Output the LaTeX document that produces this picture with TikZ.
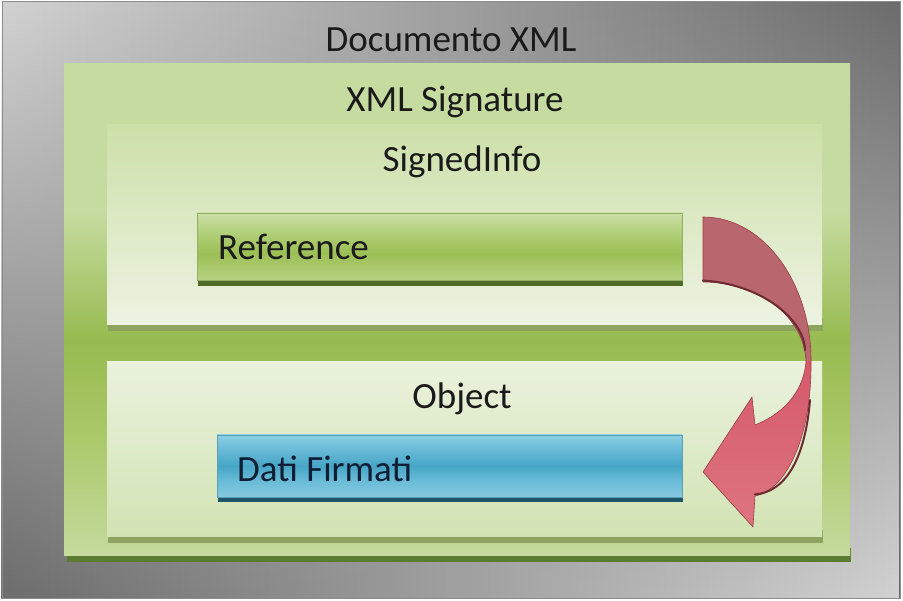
\documentclass[tikz,border=0pt]{standalone}
\usepackage{fontspec}
\setmainfont{Carlito}
\usetikzlibrary{fadings}

% palette
\definecolor{bgLight}{HTML}{D2D2D2}
\definecolor{bgDark}{HTML}{6C6C6C}
\definecolor{frameGray}{HTML}{8C8C8C}
\definecolor{gTop}{HTML}{C6DBA0}
\definecolor{gMid}{HTML}{A9C766}
\definecolor{gDark}{HTML}{97BB50}
\definecolor{gBot}{HTML}{C5DA9D}
\definecolor{gShadow}{HTML}{5C7B32}
\definecolor{panelShadow}{HTML}{8EA35E}
\definecolor{siTop}{HTML}{CDE0A9}
\definecolor{siBot}{HTML}{EDF3E2}
\definecolor{obTop}{HTML}{EAF2DD}
\definecolor{obBot}{HTML}{D2E3B3}
\definecolor{refA}{HTML}{CDE0A8}
\definecolor{refB}{HTML}{B4D07E}
\definecolor{refC}{HTML}{9CBF55}
\definecolor{refD}{HTML}{B6D283}
\definecolor{refShadow}{HTML}{4F6B25}
\definecolor{refEdge}{HTML}{93AF65}
\definecolor{blA}{HTML}{8CCEE3}
\definecolor{blB}{HTML}{6ABCD8}
\definecolor{blC}{HTML}{47A5C6}
\definecolor{blD}{HTML}{86C9DF}
\definecolor{blShadow}{HTML}{1E5667}
\definecolor{blEdge}{HTML}{5A9FB6}
\definecolor{arBack}{HTML}{B9666F}
\definecolor{arFrontA}{HTML}{D4596A}
\definecolor{arFrontB}{HTML}{DE7580}
\definecolor{arEdge}{HTML}{9A3C47}
\definecolor{arShade}{HTML}{6E2A32}
\definecolor{inkDark}{HTML}{1A1A1A}
\definecolor{inkNavy}{HTML}{0F1E33}

% vertical shadings: 25bp = bottom of the path, 75bp = top
\pgfdeclareverticalshading{signaturebg}{100bp}{%
  color(0bp)=(gBot); color(25bp)=(gBot); color(38bp)=(gMid);
  color(47bp)=(gDark); color(60bp)=(gTop); color(75bp)=(gTop); color(100bp)=(gTop)}
\pgfdeclareverticalshading{refbar}{100bp}{%
  color(0bp)=(refD); color(25bp)=(refD); color(45bp)=(refC);
  color(62bp)=(refB); color(75bp)=(refA); color(100bp)=(refA)}
\pgfdeclareverticalshading{databar}{100bp}{%
  color(0bp)=(blD); color(25bp)=(blD); color(38bp)=(blB); color(50bp)=(blC);
  color(64bp)=(blB); color(75bp)=(blA); color(100bp)=(blA)}

\begin{document}
\begin{tikzpicture}[x=1pt,y=-1pt,
  title/.style={font=\fontsize{37}{40}\selectfont, text=inkDark, inner sep=0pt, anchor=base},
  panelshadow/.style={fill=panelShadow},
  arrowedge/.style={draw=arEdge, line width=0.6pt, line join=round}]
\useasboundingbox (0,0) rectangle (903,601);

% gray document background
\shade[left color=bgLight, right color=bgDark] (2,2) rectangle (900,598);
\shade[left color=bgDark, right color=bgLight, path fading=north] (2,2) rectangle (900,598);
\draw[frameGray, line width=1pt] (2,2) rectangle (900,598);

% XML Signature panel
\fill[gShadow] (67,548) rectangle (851,562);
\shade[shading=signaturebg] (64,64) rectangle (850,556);

% SignedInfo panel
\fill[panelshadow] (108,318) rectangle (823,331);
\shade[top color=siTop, bottom color=siBot] (107,125) rectangle (822,325);

% Object panel
\fill[panelshadow] (108,530) rectangle (823,543);
\shade[top color=obTop, bottom color=obBot] (107,362) rectangle (822,537);

% Reference bar
\fill[refShadow] (198,274) rectangle (683,286);
\shade[shading=refbar, draw=refEdge, line width=0.5pt] (197,213) rectangle (682,280);

% Dati Firmati bar
\fill[blShadow] (218,490) rectangle (683,502);
\shade[shading=databar, draw=blEdge, line width=0.5pt] (217,435) rectangle (682,497);

% labels
\node[title] (doc) at (451,52) {Documento XML};
\node[title] (sig) at (455,112) {XML Signature};
\node[title] (si) at (462,172) {SignedInfo};
\node[title, anchor=base west] (ref) at (218,260) {Reference};
\node[title] (obj) at (462,409) {Object};
\node[title, anchor=base west, text=inkNavy] (dati) at (237,482) {Dati Firmati};

% curved arrow from Reference down to Dati Firmati
\coordinate (tailTop) at (703,217);
\coordinate (tailBot) at (703,282);
\coordinate (twistOut) at (811,360);
\coordinate (twistIn) at (806,362);
\coordinate (neckOut) at (755,496);
\coordinate (neckIn) at (755,425);
\coordinate (barbLow) at (753,527);
\coordinate (tip) at (703,472);
\coordinate (barbHigh) at (752,397);

% back face of the band
\fill[arBack] (tailTop) .. controls (765,217) and (811,285) .. (twistOut)
  -- (twistIn) .. controls (805,318) and (760,282) .. (tailBot) -- cycle;
% front face with the arrowhead
\shade[top color=arFrontA, bottom color=arFrontB]
  (twistOut) .. controls (812,440) and (785,490) .. (neckOut)
  -- (barbLow) -- (tip) -- (barbHigh) -- (neckIn)
  .. controls (780,415) and (803,395) .. (twistIn) -- cycle;
% outlines and shaded rims
\draw[arrowedge] (tailTop) .. controls (765,217) and (811,285) .. (twistOut)
  .. controls (812,440) and (785,490) .. (neckOut)
  -- (barbLow) -- (tip) -- (barbHigh) -- (neckIn)
  .. controls (780,415) and (803,395) .. (twistIn)
  .. controls (805,318) and (760,282) .. (tailBot) -- cycle;
\draw[arShade, line width=2pt, line cap=round]
  ([yshift=1.5pt]tailBot) .. controls (760,284) and (804,318) .. (805,350);
\draw[arShade, line width=2pt, line cap=round]
  (810,400) .. controls (805,460) and (785,492) .. ([yshift=1.5pt]neckOut);
\end{tikzpicture}
\end{document}
